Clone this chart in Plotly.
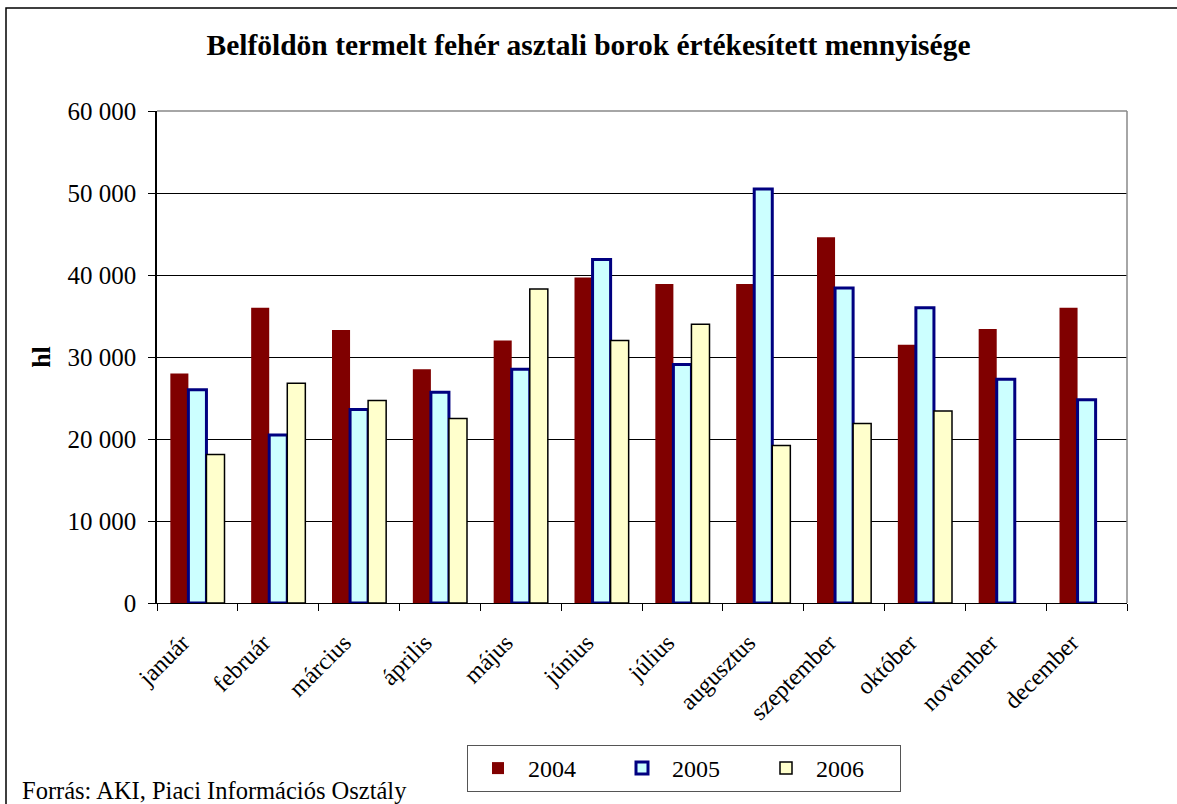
import plotly.graph_objects as go

months = ["január", "február", "március", "április", "május", "június",
          "július", "augusztus", "szeptember", "október", "november", "december"]
y2004 = [28000, 36000, 33300, 28500, 32000, 39700, 38900, 38900, 44600, 31500, 33400, 36000]
y2005 = [26000, 20500, 23600, 25700, 28500, 41900, 29100, 50500, 38400, 36000, 27300, 24800]
y2006 = [18100, 26800, 24700, 22500, 38300, 32000, 34000, 19200, 21900, 23400, None, None]

W, H = 1177, 804
L, R, T, B = 157, 50, 111, 201
pw, ph = W - L - R, H - T - B

def px(x):
    return (x - L) / pw

def py(y):
    return (H - B - y) / ph

FONT = "Liberation Serif, Times New Roman, serif"

fig = go.Figure()
fig.add_trace(go.Bar(name="2004", x=months, y=y2004,
                     marker=dict(color="#800000", line=dict(width=0))))
fig.add_trace(go.Bar(name="2005", x=months, y=y2005,
                     marker=dict(color="#CCFFFF", line=dict(color="#000080", width=3))))
fig.add_trace(go.Bar(name="2006", x=months, y=y2006,
                     marker=dict(color="#FFFFCC", line=dict(color="#000000", width=1.5))))

fig.update_layout(
    width=W, height=H,
    margin=dict(l=L, r=R, t=T, b=B),
    paper_bgcolor="white", plot_bgcolor="white",
    barmode="group", bargap=0.33, bargroupgap=0,
    separators=", ",
    font=dict(family=FONT, color="black", size=24),
    title=dict(text="<b>Belföldön termelt fehér asztali borok értékesített mennyisége</b>",
               x=0.5, xref="container", xanchor="center", y=1 - 45 / H, yanchor="middle",
               font=dict(family=FONT, size=29.5, color="black")),
    xaxis=dict(tickangle=-45, ticks="outside", tickson="boundaries", ticklen=7,
               tickcolor="black", showline=True, linecolor="black", linewidth=1,
               ticklabelstandoff=15, ticklabelshift=-15,
               showgrid=False, tickfont=dict(family=FONT, size=24)),
    yaxis=dict(range=[0, 60000], tickvals=[0, 10000, 20000, 30000, 40000, 50000, 60000],
               tickformat=",d", ticks="outside", ticklen=7, tickcolor="black",
               ticklabelstandoff=7,
               showline=True, linecolor="black", linewidth=1.5,
               showgrid=True, gridcolor="black", gridwidth=1,
               tickfont=dict(family=FONT, size=25),
               title=dict(text="<b>hl</b>", font=dict(family=FONT, size=26), standoff=9)),
    legend=dict(orientation="h", x=px(467), xanchor="left", y=py(745), yanchor="top",
                bgcolor="white", bordercolor="#555555", borderwidth=1,
                font=dict(family=FONT, size=24, color="black"),
                entrywidth=79, itemwidth=50, traceorder="normal"),
    showlegend=True,
)

# plot-area border (gray top/right)
fig.add_shape(type="line", xref="paper", yref="paper", x0=0, x1=1, y0=1, y1=1,
              line=dict(color="#888888", width=1.5), layer="above")
fig.add_shape(type="line", xref="paper", yref="paper", x0=1, x1=1, y0=0, y1=1,
              line=dict(color="#888888", width=1.5), layer="above")
# outer chart frame
fig.add_shape(type="rect", xref="paper", yref="paper",
              x0=px(6), x1=px(W + 10), y0=py(8), y1=py(H + 10),
              line=dict(color="black", width=1.5), layer="below")

fig.add_annotation(text="Forrás: AKI, Piaci Információs Osztály", xref="paper", yref="paper",
                   x=px(20), xanchor="left", y=py(806), yanchor="bottom", showarrow=False,
                   font=dict(family=FONT, size=24.5, color="black"))

fig.write_html("out.html", config={"displayModeBar": False},
               post_script="document.body.style.margin='0';document.body.style.padding='0';")
